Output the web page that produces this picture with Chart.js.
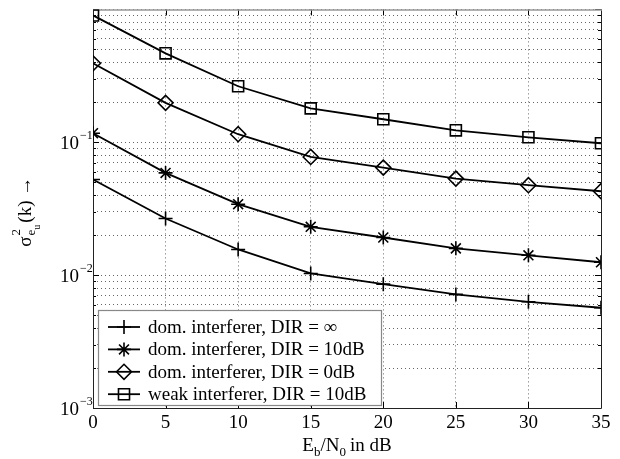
<!DOCTYPE html>
<html>
<head>
<meta charset="utf-8">
<script src="https://cdn.jsdelivr.net/npm/chart.js@4/dist/chart.umd.min.js"></script>
<style>body{margin:0;background:#fff}</style>
</head>
<body>
<canvas id="c" width="620" height="459"></canvas>
<script>
// values
const snrDb = [0, 5, 10, 15, 20, 25, 30, 35];
const domInf = [0.0524, 0.0267, 0.0156, 0.0103, 0.00855, 0.00716, 0.0063, 0.00568];
const dom10 = [0.117, 0.0588, 0.0342, 0.0231, 0.0192, 0.0159, 0.0141, 0.0125];
const dom0 = [0.393, 0.198, 0.115, 0.0775, 0.0645, 0.0533, 0.0475, 0.0428];
const weak10 = [0.901, 0.467, 0.264, 0.180, 0.149, 0.123, 0.109, 0.0983];
const seriesLabels = [
  'dom. interferer, DIR = \u221E',
  'dom. interferer, DIR = 10dB',
  'dom. interferer, DIR = 0dB',
  'weak interferer, DIR = 10dB'
];
const xTicks = [0, 5, 10, 15, 20, 25, 30, 35];
const yTickExps = [-3, -2, -1];

const serif = '"Liberation Serif", "Times New Roman", serif';

function pts(vals) {
  return vals.map((v, i) => ({ x: snrDb[i], y: v }));
}

const styles = [
  { pointStyle: 'cross', pointRadius: 7 },
  { pointStyle: 'star', pointRadius: 7 },
  { pointStyle: 'rectRot', pointRadius: 7.5 },
  { pointStyle: 'rect', pointRadius: 7.8 }
];
const allSeries = [domInf, dom10, dom0, weak10];

const datasets = allSeries.map((s, i) => ({
  label: seriesLabels[i],
  data: pts(s),
  borderColor: '#000',
  borderWidth: 1.8,
  backgroundColor: 'rgba(0,0,0,0)',
  pointBorderColor: '#000',
  pointBackgroundColor: 'rgba(0,0,0,0)',
  pointBorderWidth: 1.6,
  pointStyle: styles[i].pointStyle,
  pointRadius: styles[i].pointRadius,
  tension: 0
}));

function drawParts(ctx, parts, x, y) {
  // parts: [text, size, shift]
  let cx = x;
  parts.forEach(p => {
    ctx.font = p[1] + 'px ' + serif;
    ctx.fillText(p[0], cx, y + p[2]);
    cx += ctx.measureText(p[0]).width + (p[3] || 0);
  });
  return cx - x;
}
function partsWidth(ctx, parts) {
  let w = 0;
  parts.forEach(p => { ctx.font = p[1] + 'px ' + serif; w += ctx.measureText(p[0]).width + (p[3] || 0); });
  return w;
}

const frame = {
  id: 'frame',
  beforeDatasetsDraw(chart) {
    const { ctx, chartArea: a, scales: { x, y } } = chart;
    ctx.save();
    ctx.strokeStyle = '#000';
    ctx.lineWidth = 1;
    ctx.beginPath();
    xTicks.forEach(v => {
      const px = Math.round(x.getPixelForValue(v)) + 0.5;
      ctx.moveTo(px, a.bottom); ctx.lineTo(px, a.bottom - 6);
      ctx.moveTo(px, a.top); ctx.lineTo(px, a.top + 6);
    });
    y.ticks.forEach(t => {
      const py = Math.round(y.getPixelForValue(t.value)) + 0.5;
      const lg = Math.log10(t.value);
      const len = Math.abs(lg - Math.round(lg)) < 1e-6 ? 6 : 3;
      ctx.moveTo(a.left, py); ctx.lineTo(a.left + len, py);
      ctx.moveTo(a.right, py); ctx.lineTo(a.right - len, py);
    });
    ctx.stroke();
    // box
    ctx.strokeStyle = '#222';
    ctx.beginPath();
    ctx.moveTo(a.left + 0.5, a.top);
    ctx.lineTo(a.left + 0.5, a.bottom + 0.5);
    ctx.lineTo(a.right + 0.5, a.bottom + 0.5);
    ctx.lineTo(a.right + 0.5, a.top);
    ctx.stroke();
    ctx.strokeStyle = '#999';
    ctx.lineWidth = 1.5;
    ctx.beginPath();
    ctx.moveTo(a.left, a.top + 0.5);
    ctx.lineTo(a.right + 1, a.top + 0.5);
    ctx.stroke();
    ctx.restore();
  },
  afterDraw(chart) {
    const { ctx, chartArea: a, scales: { x, y } } = chart;
    ctx.save();
    ctx.fillStyle = '#000';
    ctx.textBaseline = 'alphabetic';
    ctx.textAlign = 'left';

    // y tick labels 10^e
    yTickExps.forEach(e => {
      const py = y.getPixelForValue(Math.pow(10, e));
      ctx.font = '19px ' + serif;
      const w = ctx.measureText('10').width;
      ctx.fillText('10', 79 - w, py + 7);
      ctx.font = '12px ' + serif;
      ctx.fillText('\u2212' + (-e), 80, py - 3);
    });

    // x title
    const xt = [['E', 19, 0], ['b', 13, 5], ['/N', 19, 0], ['0', 13, 5, 4], ['in dB', 19, 0]];
    const xw = partsWidth(ctx, xt);
    drawParts(ctx, xt, (a.left + a.right) / 2 - xw / 2, 451);

    // y title, rotated
    ctx.save();
    const yt = [['\u03C3', 19, 0]];
    ctx.font = '19px ' + serif;
    const wSig = ctx.measureText('\u03C3').width;
    ctx.font = '13px ' + serif;
    const wE = ctx.measureText('e').width;
    ctx.font = '10px ' + serif;
    const wU = ctx.measureText('u').width;
    ctx.font = '19px ' + serif;
    const wK = ctx.measureText('(k)').width;
    const wArr = ctx.measureText(' \u2192').width;
    const total = wSig + 1 + wE + wU + 2 + wK + wArr;
    const cy = (a.top + a.bottom) / 2 + 3;
    ctx.translate(31, cy + total / 2);
    ctx.rotate(-Math.PI / 2);
    let cx = 0;
    ctx.font = '19px ' + serif;
    ctx.fillText('\u03C3', cx, 0);
    cx += wSig + 1;
    ctx.font = '13px ' + serif;
    ctx.fillText('2', cx, -11);
    ctx.fillText('e', cx, 4);
    cx += wE;
    ctx.font = '10px ' + serif;
    ctx.fillText('u', cx, 9);
    cx += wU + 2;
    ctx.font = '19px ' + serif;
    ctx.fillText('(k)', cx, 0);
    cx += wK;
    ctx.fillText(' \u2192', cx, 0);
    ctx.restore();

    // legend
    const lx = 98, ly = 310, lw = 283, lh = 95;
    ctx.fillStyle = '#fff';
    ctx.fillRect(lx, ly, lw, lh);
    ctx.strokeStyle = '#888';
    ctx.lineWidth = 1.2;
    ctx.strokeRect(lx + 0.5, ly + 0.5, lw, lh);
    chart.data.datasets.forEach((ds, i) => {
      const ey = ly + 17 + i * 22.4;
      ctx.strokeStyle = '#000';
      ctx.lineWidth = 1.8;
      ctx.beginPath();
      ctx.moveTo(108, ey); ctx.lineTo(140, ey);
      ctx.stroke();
      ctx.lineWidth = ds.pointBorderWidth;
      ctx.fillStyle = 'rgba(0,0,0,0)';
      Chart.helpers.drawPoint(ctx, {
        pointStyle: ds.pointStyle,
        radius: ds.pointRadius,
        borderWidth: ds.pointBorderWidth,
        rotation: 0
      }, 124, ey);
      ctx.fillStyle = '#000';
      ctx.font = '19px ' + serif;
      ctx.textBaseline = 'middle';
      ctx.fillText(ds.label, 148, ey + 1);
      ctx.textBaseline = 'alphabetic';
    });
    ctx.restore();
  }
};

const gridDots = { color: 'rgba(0,0,0,0.6)', lineWidth: 1, drawTicks: false };

new Chart(document.getElementById('c'), {
  type: 'line',
  data: { datasets: datasets },
  options: {
    responsive: false,
    animation: false,
    layout: { padding: { left: 0, right: 19, top: 9, bottom: 0 } },
    plugins: { legend: { display: false }, tooltip: { enabled: false } },
    scales: {
      x: {
        type: 'linear',
        min: 0,
        max: 35,
        afterBuildTicks: s => { s.ticks = xTicks.map(v => ({ value: v })); },
        afterFit: s => { s.height = 51; },
        ticks: { color: '#000', font: { family: serif, size: 19 }, padding: 4, maxRotation: 0 },
        grid: gridDots,
        border: { display: false, dash: [1, 3] }
      },
      y: {
        type: 'logarithmic',
        min: 0.001,
        max: 1,
        afterBuildTicks: s => {
          const t = [];
          yTickExps.forEach(e => {
            for (let m = 1; m < 10; m++) t.push({ value: m * Math.pow(10, e) });
          });
          t.push({ value: 1 });
          s.ticks = t;
        },
        afterFit: s => { s.width = 93; },
        ticks: { display: false },
        grid: gridDots,
        border: { display: false, dash: [1, 3] }
      }
    }
  },
  plugins: [frame]
});
</script>
</body>
</html>
